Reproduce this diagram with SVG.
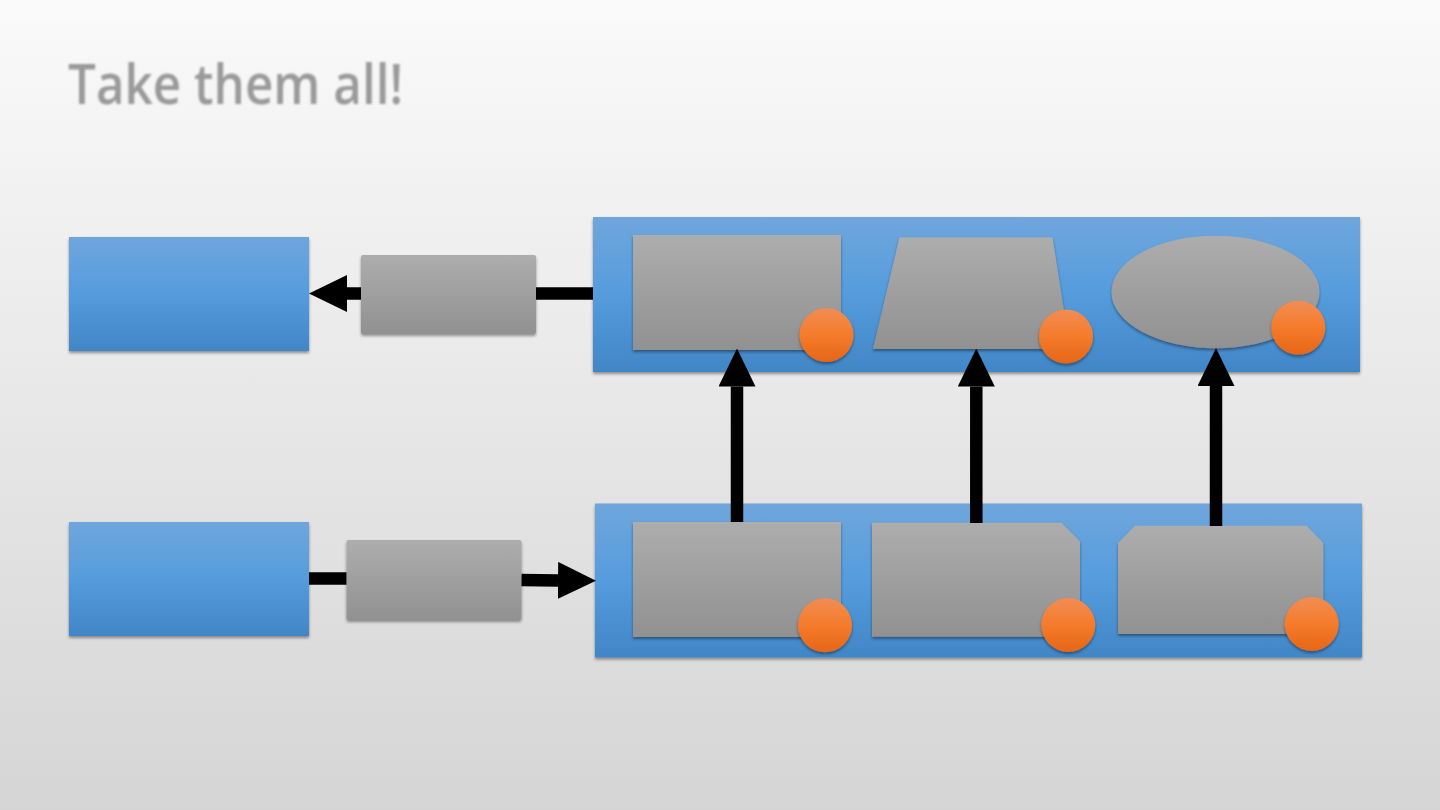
<svg xmlns="http://www.w3.org/2000/svg" width="1440" height="810" viewBox="0 0 1440 810">
<defs>
<linearGradient id="bg" x1="0" y1="0" x2="0" y2="1"><stop offset="0" stop-color="#fafafa"/><stop offset="1" stop-color="#d5d5d5"/></linearGradient>
<linearGradient id="blue" x1="0" y1="0" x2="0" y2="1"><stop offset="0" stop-color="#6fa6dc"/><stop offset="0.5" stop-color="#559cdd"/><stop offset="1" stop-color="#4186c6"/></linearGradient>
<linearGradient id="gray" x1="0" y1="0" x2="0" y2="1"><stop offset="0" stop-color="#adadad"/><stop offset="1" stop-color="#919191"/></linearGradient>
<linearGradient id="orange" x1="0" y1="0" x2="0" y2="1"><stop offset="0" stop-color="#f08d55"/><stop offset="0.5" stop-color="#f57b2a"/><stop offset="1" stop-color="#e66618"/></linearGradient>
<filter id="sh" x="-10%" y="-10%" width="120%" height="130%"><feDropShadow dx="0" dy="2" stdDeviation="1.5" flood-color="#000" flood-opacity="0.4"/></filter>
<filter id="tsh" x="-5%" y="-20%" width="110%" height="140%"><feGaussianBlur stdDeviation="0.9"/></filter>
<marker id="ah" viewBox="0 0 38 37" refX="0" refY="18.5" markerWidth="38" markerHeight="37" markerUnits="userSpaceOnUse" orient="auto"><path d="M0,0 L38,18.5 L0,37 Z" fill="#000"/></marker>
</defs>
<style>
.blue{fill:url(#blue);filter:url(#sh)}
.gray{fill:url(#gray);filter:url(#sh)}
.dot{fill:url(#orange);filter:url(#sh)}
.line{stroke:#000;stroke-width:12.5;fill:none}
.title{font-family:"Open Sans","Noto Sans",sans-serif;font-size:56px;font-weight:600;fill:#9a9a9a}
</style>
<rect x="0" y="0" width="1440" height="810" fill="url(#bg)"/>
<text class="title" x="68" y="104" textLength="335" lengthAdjust="spacingAndGlyphs" filter="url(#tsh)">Take them all!</text>

<g id="out-box"><rect class="blue" x="69" y="237" width="240" height="114"/></g>
<g id="out-filter"><rect class="gray" x="361" y="255" width="175" height="79" rx="2"/></g>
<g id="in-box"><rect class="blue" x="69" y="522" width="240" height="114"/></g>
<g id="in-filter"><rect class="gray" x="346.5" y="540" width="175" height="80" rx="2"/></g>

<g id="top-container">
<rect class="blue" x="593" y="217" width="767" height="155"/>
<g id="top-rect"><rect class="gray" x="633" y="235" width="208" height="115"/><circle class="dot" cx="826.5" cy="335" r="27"/></g>
<g id="top-trapezoid"><polygon class="gray" points="899.5,237.5 1052.5,237.5 1070,349 873,349"/><circle class="dot" cx="1066" cy="336.5" r="27"/></g>
<g id="top-ellipse"><ellipse class="gray" cx="1215.5" cy="292" rx="104" ry="56.3"/><circle class="dot" cx="1298.3" cy="327.7" r="27"/></g>
</g>

<g id="bottom-container">
<rect class="blue" x="595" y="503.5" width="767" height="154"/>
<g id="bottom-rect"><rect class="gray" x="633" y="522" width="208" height="115"/><circle class="dot" cx="825" cy="625.3" r="27"/></g>
<g id="bottom-snip1"><polygon class="gray" points="872,522.7 1061.5,522.7 1080,541.5 1080,636.7 872,636.7"/><circle class="dot" cx="1068.3" cy="625" r="27"/></g>
<g id="bottom-snip2"><polygon class="gray" points="1135,525.7 1306.5,525.7 1323.3,543 1323.3,634 1118,634 1118,543"/><circle class="dot" cx="1311.7" cy="624" r="27"/></g>
</g>

<g id="connectors">
<line class="line" x1="593" y1="293.5" x2="536" y2="293.5"/>
<line class="line" x1="361" y1="293.5" x2="347" y2="293.5" marker-end="url(#ah)"/>
<line class="line" x1="309" y1="578.5" x2="346.5" y2="578.5"/>
<line class="line" x1="521.5" y1="580" x2="558" y2="580.4" marker-end="url(#ah)"/>
<line class="line" x1="737" y1="522" x2="737" y2="386.5" marker-end="url(#ah)"/>
<line class="line" x1="976.3" y1="523" x2="976.3" y2="386.5" marker-end="url(#ah)"/>
<line class="line" x1="1216" y1="526" x2="1216" y2="386" marker-end="url(#ah)"/>
</g>
</svg>
